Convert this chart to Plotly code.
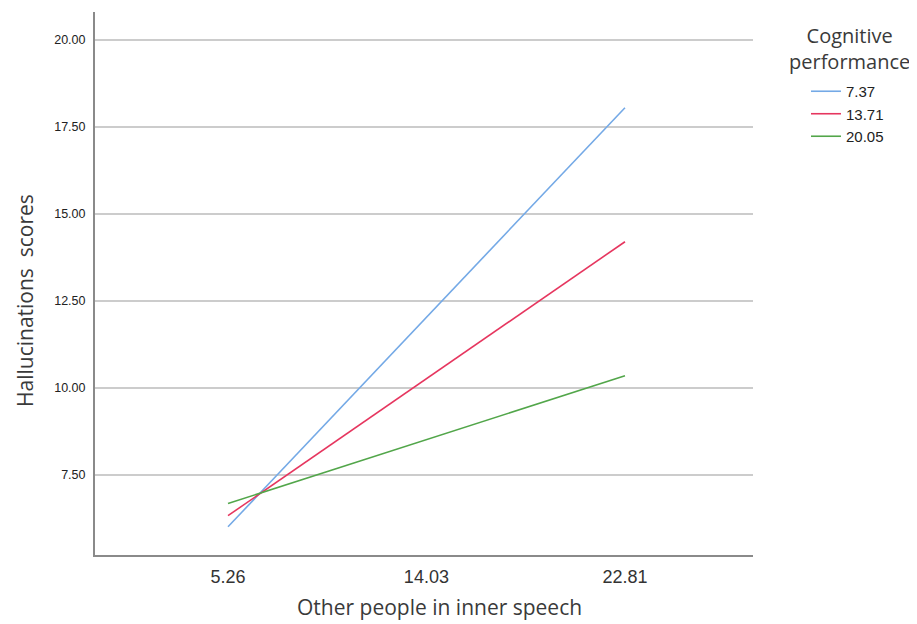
import plotly.graph_objects as go

x_vals = [5.26, 22.81]
x_ticks = [5.26, 14.03, 22.81]
y_ticks = [7.5, 10.0, 12.5, 15.0, 17.5, 20.0]
groups = ["7.37", "13.71", "20.05"]
series = {
    "7.37": [6.01, 18.05],
    "13.71": [6.33, 14.20],
    "20.05": [6.68, 10.35],
}
colors = {"7.37": "#74a9e6", "13.71": "#e6365f", "20.05": "#52a64a"}

fig = go.Figure()
for g in groups:
    fig.add_trace(go.Scatter(x=x_vals, y=series[g], mode="lines", name=g,
                             line=dict(color=colors[g], width=1.6)))

title_font = dict(family="Open Sans", size=21, color="#3a3a3a")
legend_title_font = dict(family="Open Sans", size=20, color="#3a3a3a")

fig.update_layout(
    width=909, height=616,
    paper_bgcolor="white", plot_bgcolor="white",
    margin=dict(l=87, r=164, t=4, b=69),
    showlegend=True,
    legend=dict(
        x=1.0805, xanchor="left", y=0.884, yanchor="top",
        font=dict(family="Liberation Sans", size=15, color="#222"),
        itemwidth=30, tracegroupgap=0,
        bgcolor="rgba(0,0,0,0)",
    ),
    xaxis=dict(
        range=[-0.62, 28.47], tickmode="array", tickvals=x_ticks,
        ticktext=[f"{v:.2f}" for v in x_ticks],
        showgrid=False, zeroline=False,
        showline=True, linecolor="#8a8a8a", linewidth=2,
        ticks="", tickfont=dict(family="Liberation Sans", size=18, color="#333"),
        ticklabelstandoff=4,
    ),
    yaxis=dict(
        range=[5.2, 20.8], tickmode="array", tickvals=y_ticks,
        ticktext=[f"{v:.2f}" for v in y_ticks],
        showgrid=True, gridcolor="#cccccc", gridwidth=1.5, zeroline=False,
        showline=True, linecolor="#8a8a8a", linewidth=2,
        ticks="", tickfont=dict(family="Liberation Sans", size=12.5, color="#222"),
        ticklabelstandoff=5,
    ),
    annotations=[
        dict(text="Other people in inner speech", xref="paper", yref="paper",
             x=0.5243, y=-0.0958, xanchor="center", yanchor="middle",
             showarrow=False, font=title_font),
        dict(text="Hallucinations  scores", xref="paper", yref="paper",
             x=-0.1064, y=0.4696, xanchor="center", yanchor="middle",
             textangle=-90, showarrow=False, font=title_font),
        dict(text="Cognitive<br>performance", xref="paper", yref="paper",
             x=1.146, y=0.9335, xanchor="center", yanchor="middle", align="center",
             showarrow=False, font=legend_title_font),
    ],
)

fig.write_html("out.html")
